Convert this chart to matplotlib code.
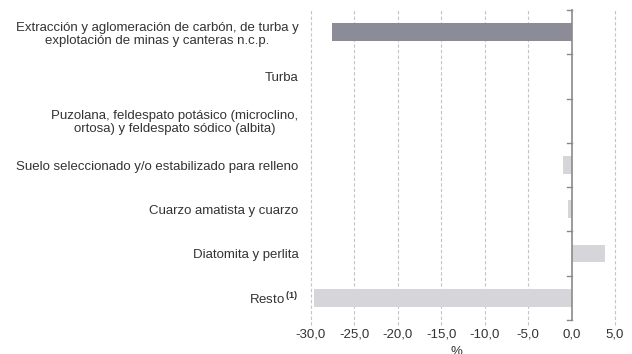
import matplotlib
matplotlib.use("Agg")
import matplotlib.pyplot as plt

categories = [
    "Extracción y aglomeración de carbón, de turba y\nexplotación de minas y canteras n.c.p.",
    "Turba",
    "Puzolana, feldespato potásico (microclino,\nortosa) y feldespato sódico (albita)",
    "Suelo seleccionado y/o estabilizado para relleno",
    "Cuarzo amatista y cuarzo",
    "Diatomita y perlita",
    "Resto$^{\\,\\mathbf{(1)}}$",
]
values = [-27.6, 0.0, 0.0, -1.0, -0.45, 3.9, -29.6]
colors = ["#8c8b98", "#d5d5da", "#d5d5da", "#d5d5da", "#d5d5da", "#d5d5da", "#d5d5da"]
xticks = [-30, -25, -20, -15, -10, -5, 0, 5]
xtick_labels = ["-30,0", "-25,0", "-20,0", "-15,0", "-10,0", "-5,0", "0,0", "5,0"]

plt.rcParams["font.family"] = ["Liberation Sans", "DejaVu Sans"]
plt.rcParams["mathtext.fontset"] = "custom"
plt.rcParams["mathtext.rm"] = "Liberation Sans"
plt.rcParams["mathtext.bf"] = "Liberation Sans:bold"

text_color = "#333333"
fs = 9.5
fig = plt.figure(figsize=(6.32, 3.54), dpi=100)
ax = fig.add_axes([311 / 632, 1 - 320 / 354, (615 - 311) / 632, (320 - 10) / 354])

n = len(categories)
ypos = list(range(n))
ax.barh(ypos, values, height=0.4, color=colors, zorder=3)
ax.set_ylim(n - 0.5, -0.5)
ax.set_xlim(-30, 5)

# dashed vertical gridlines, drawn below bars
for x in xticks:
    if x != 0:
        ax.plot([x, x], [n - 0.5 + 0.12, -0.5], ls=(0, (3, 2)), color="#c4c4c4",
                lw=0.8, zorder=1, clip_on=False)

for s in ax.spines.values():
    s.set_visible(False)

# vertical zero axis with boundary ticks
ax.plot([0, 0], [-0.5, n - 0.5], color="#8a8a8a", lw=1.2, zorder=4, clip_on=False)
for b in [i - 0.5 for i in range(n + 1)]:
    ax.plot([-0.5, 0], [b, b], color="#8a8a8a", lw=1.0, zorder=4, clip_on=False)

ax.set_yticks(ypos)
ax.set_yticklabels(categories, fontsize=fs, color=text_color, linespacing=1.12)
ax.tick_params(axis="y", length=0, pad=9)
for lbl in ax.get_yticklabels():
    lbl.set_horizontalalignment("right")
    lbl.set_multialignment("center")

ax.set_xticks(xticks)
ax.set_xticklabels(xtick_labels, fontsize=fs, color=text_color)
ax.tick_params(axis="x", length=0, pad=6)

fig.text(456 / 632, 1 - 358 / 354, "%", fontsize=fs, color=text_color,
         ha="center", va="bottom")

fig.savefig("out.png", dpi=100)
